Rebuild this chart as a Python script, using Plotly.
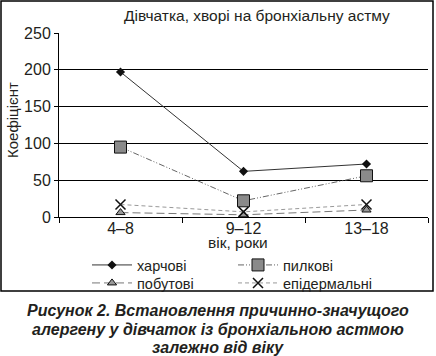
import plotly.graph_objects as go

categories = ["4–8", "9–12", "13–18"]
food = [197, 62, 72]          # харчові
pollen = [95, 22, 56]         # пилкові
household = [6, 3, 9.5]       # побутові
epidermal = [17, 7, 17]       # епідермальні
y_ticks = [0, 50, 100, 150, 200, 250]
grid_ticks = [50, 100, 150, 200]

names = ["харчові", "пилкові", "побутові", "епідермальні"]
title_text = "Дівчатка, хворі на бронхіальну астму"
ytitle = "Коефіцієнт"
xtitle = "вік, роки"
caption = ["Рисунок 2. Встановлення причинно-значущого",
           "алергену у дівчаток із бронхіальною астмою",
           "залежно від віку"]

FONT = "Liberation Sans, Arial, sans-serif"
INK = "#231f20"

W, H = 436, 356
L, R, T, B = 59, 8, 33, 139
pw = W - L - R
ph = H - T - B

def px(x):
    return (x - L) / pw

def py(y):
    return (H - B - y) / ph

fig = go.Figure()
fig.add_trace(go.Scatter(x=categories, y=food, name=names[0], mode="lines+markers",
                         legend="legend",
                         line=dict(color="#333333", width=1),
                         marker=dict(symbol="diamond", size=7, color="#111111")))
fig.add_trace(go.Scatter(x=categories, y=pollen, name=names[1], mode="lines+markers",
                         legend="legend",
                         line=dict(color="#666666", width=1, dash="6px,2px,1px,2px,1px,2px"),
                         marker=dict(symbol="square", size=12, color="#8a8a8a",
                                     line=dict(color="#111111", width=1))))
fig.add_trace(go.Scatter(x=categories, y=household, name=names[2], mode="lines+markers",
                         legend="legend2",
                         line=dict(color="#777777", width=1, dash="8px,4px"),
                         marker=dict(symbol="triangle-up", size=8, color="#999999",
                                     line=dict(color="#111111", width=1))))
fig.add_trace(go.Scatter(x=categories, y=epidermal, name=names[3], mode="lines+markers",
                         legend="legend2",
                         line=dict(color="#999999", width=1, dash="4px,3px"),
                         marker=dict(symbol="x-thin", size=10,
                                     line=dict(color="#111111", width=1.5))))
# invisible trace to carry the gridline axis
fig.add_trace(go.Scatter(x=categories, y=[None, None, None], yaxis="y2",
                         showlegend=False, hoverinfo="skip"))

leg_common = dict(orientation="h", xanchor="left", yanchor="middle",
                  entrywidth=91, itemwidth=40,
                  font=dict(size=14.5, family=FONT, color=INK),
                  bgcolor="rgba(0,0,0,0)", tracegroupgap=0)

fig.update_layout(
    width=W, height=H,
    margin=dict(l=L, r=R, t=T, b=B),
    paper_bgcolor="white", plot_bgcolor="white",
    font=dict(family=FONT, color=INK, size=15),
    showlegend=True,
    legend=dict(x=px(87), y=py(265), **leg_common),
    legend2=dict(x=px(87), y=py(283), **leg_common),
    xaxis=dict(type="category", showgrid=False, showline=True, linecolor="black",
               linewidth=1, ticks="outside", tickson="boundaries", ticklen=5,
               tickcolor="black", tickfont=dict(size=16, family=FONT, color=INK),
               ticklabelstandoff=-3,
               zeroline=False, range=[-0.5, 2.5], automargin=False),
    yaxis=dict(range=[0, 250], tickvals=y_ticks, showgrid=False, showline=True,
               linecolor="black", linewidth=1, ticks="outside", ticklen=4,
               tickcolor="black", tickfont=dict(size=16, family=FONT, color=INK),
               zeroline=False, automargin=False),
    yaxis2=dict(range=[0, 250], overlaying="y", tickvals=grid_ticks, showgrid=True,
                gridcolor="black", gridwidth=1, showticklabels=False, ticks="",
                zeroline=False, showline=False, side="left", layer="below traces",
                automargin=False),
)

fig.add_annotation(text=title_text, xref="paper", yref="paper", x=px(257), y=py(15),
                   showarrow=False, font=dict(size=15.5, family=FONT, color=INK),
                   xanchor="center", yanchor="middle")
fig.add_annotation(text=ytitle, xref="paper", yref="paper", x=px(12), y=py(120),
                   showarrow=False, textangle=-90, font=dict(size=15, family=FONT, color=INK),
                   xanchor="center", yanchor="middle")
fig.add_annotation(text=xtitle, xref="paper", yref="paper", x=px(238), y=py(242),
                   showarrow=False, font=dict(size=15.5, family=FONT, color=INK),
                   xanchor="center", yanchor="middle")
for line, ypos in zip(caption, [310, 329, 347]):
    fig.add_annotation(text=line, xref="paper", yref="paper", x=px(218), y=py(ypos),
                       showarrow=False,
                       font=dict(size=16, family=FONT, color=INK, weight="bold", style="italic"),
                       xanchor="center", yanchor="middle")

fig.add_shape(type="rect", xref="paper", yref="paper",
              x0=px(1), x1=px(433), y0=py(291), y1=py(1),
              line=dict(color="black", width=1.5), fillcolor="rgba(0,0,0,0)", layer="below")

fig.write_html("out.html", config={"displayModeBar": False},
               post_script="document.body.style.margin='0';document.body.style.overflow='hidden';")
